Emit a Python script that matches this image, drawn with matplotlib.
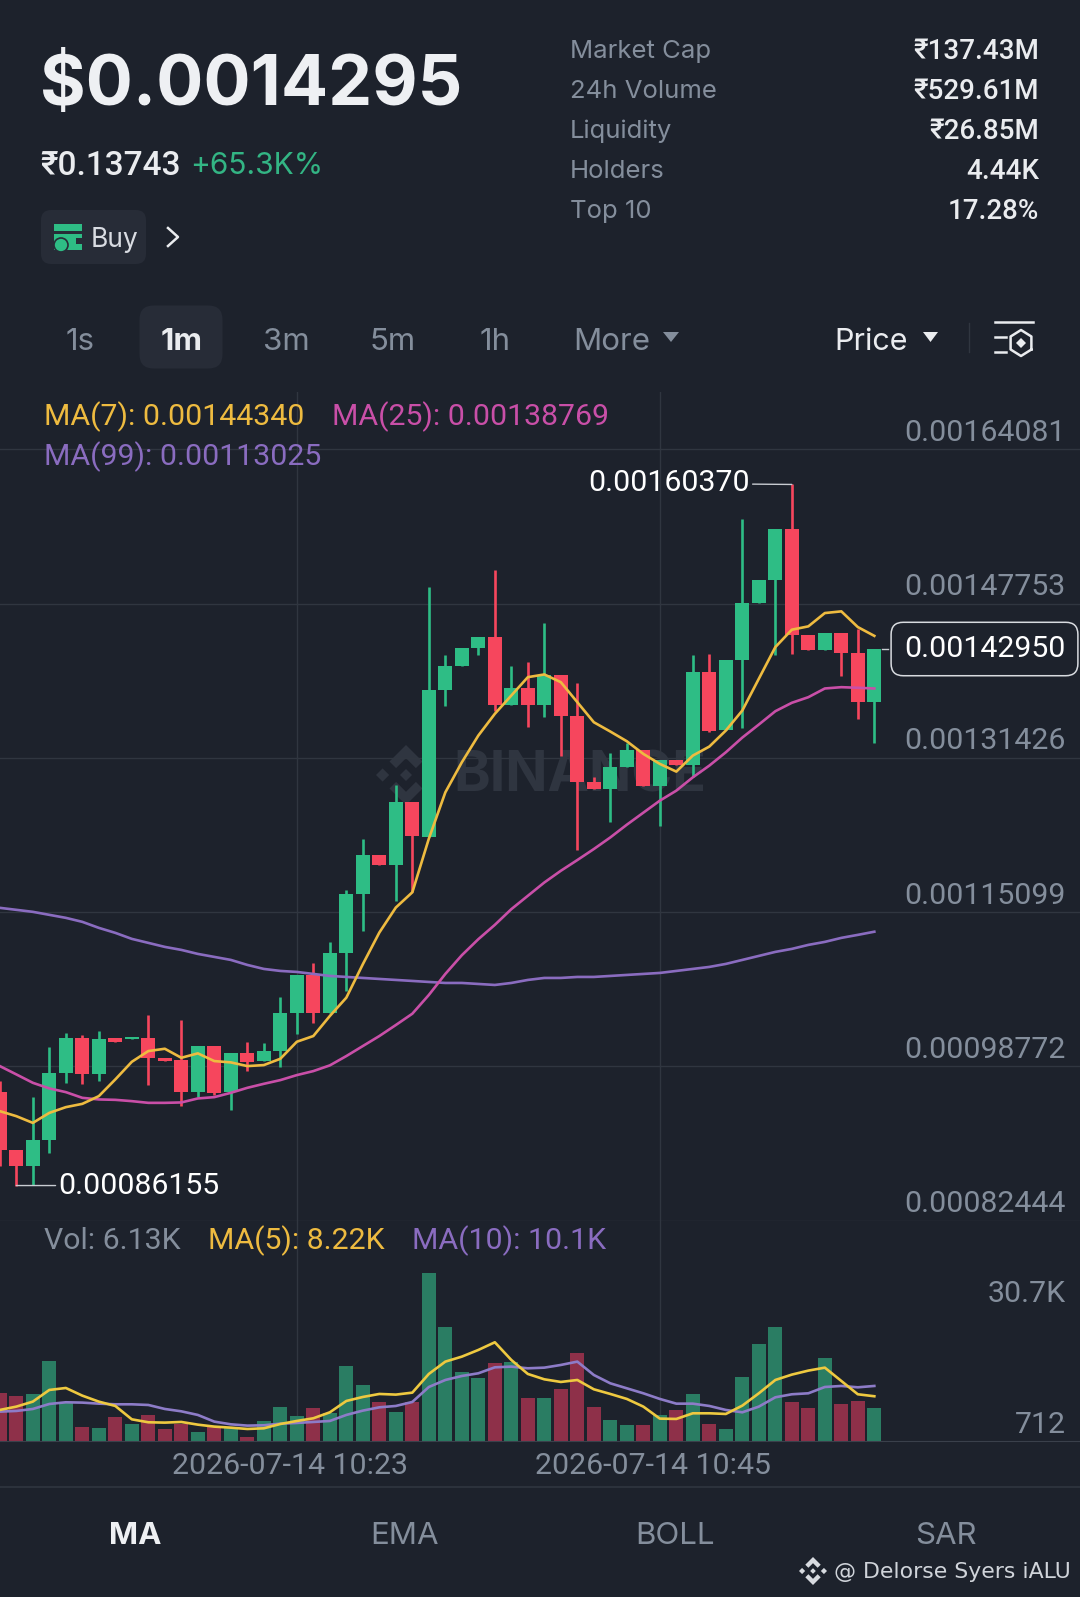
import matplotlib
matplotlib.use('Agg')
import matplotlib.pyplot as plt
import numpy as np
from matplotlib.patches import FancyBboxPatch, Polygon, Rectangle, Circle
from matplotlib.transforms import ScaledTranslation

# prices below are stored in units of 1e-8
CANDLE_OPEN = [96044, 89894, 88272, 90954, 98090, 101769, 97984, 101769, 101631, 101769, 99617, 99436, 96076, 100953, 96076, 100179, 99298, 100359, 104420, 108481, 104420, 110781, 116973, 121172, 120112, 126791, 123080, 138560, 141105, 143045, 144254, 137076, 138804, 137076, 140224, 135877, 128838, 128138, 130502, 132273, 128488, 131212, 130714, 140543, 134393, 141741, 147816, 150223, 155630, 144466, 142801, 144636, 142515, 137288]
CANDLE_CLOSE = [89894, 88272, 90954, 98090, 101769, 97984, 101695, 101377, 101907, 99680, 99330, 96076, 100953, 95970, 100179, 99224, 100359, 104420, 108481, 104420, 110781, 116973, 121172, 120112, 126791, 123122, 138560, 141105, 143045, 144254, 137076, 138804, 137076, 140224, 135877, 128838, 128138, 130502, 132273, 128488, 131212, 130714, 140543, 134319, 141741, 147816, 150223, 155630, 144466, 142801, 144636, 142515, 137288, 142950]
CANDLE_HIGH = [97210, 89894, 95514, 100847, 102299, 102055, 102511, 101769, 101907, 104176, 99617, 103646, 100953, 100953, 100179, 101313, 101271, 106116, 108481, 109721, 111916, 117408, 122804, 121172, 128594, 126791, 149513, 142271, 143045, 144254, 151357, 141137, 141561, 145738, 140224, 139376, 129368, 131954, 132973, 132273, 131212, 131212, 142271, 142451, 141741, 156690, 150223, 155630, 160370, 144466, 144636, 144636, 145102, 142950]
CANDLE_LOW = [88198, 86155, 86170, 89608, 97030, 96860, 97210, 101377, 101631, 96786, 99330, 94527, 95514, 95726, 94135, 98270, 99298, 98662, 102161, 103359, 104420, 106752, 113114, 120112, 116295, 117249, 123080, 136970, 141105, 142271, 136440, 137076, 134669, 135729, 131668, 121702, 128138, 124597, 130502, 128488, 124173, 130714, 129368, 134139, 134393, 134562, 147816, 142271, 142377, 142801, 142801, 140044, 135559, 132973]
MA7 = [94029, 93499, 92788, 93848, 94453, 94803, 95620, 97391, 99256, 100391, 100635, 99680, 100147, 99330, 99192, 98800, 98906, 99574, 101377, 101981, 104102, 106042, 109583, 112934, 115584, 117196, 122868, 127777, 130958, 133789, 136089, 138030, 139970, 140256, 139440, 137320, 135199, 134213, 133185, 131847, 130787, 129972, 131668, 132623, 134319, 136440, 139801, 143151, 144996, 145346, 146756, 146936, 145271, 144340]
MA25 = [98800, 97920, 97030, 96436, 96044, 95439, 95269, 95227, 95089, 94909, 94909, 94951, 95375, 95514, 95970, 96500, 96924, 97316, 97846, 98270, 98874, 99861, 100921, 101981, 103147, 104345, 106328, 108555, 110537, 112232, 113750, 115413, 116825, 118235, 119475, 120610, 121776, 123006, 124353, 125625, 126897, 127957, 129368, 130608, 132018, 133577, 134955, 136365, 137256, 137850, 138772, 138910, 138846, 138769]
MA99 = [115552, 115340, 115128, 114810, 114492, 114068, 113432, 112902, 112266, 111842, 111417, 111099, 110675, 110357, 110039, 109509, 109085, 108873, 108767, 108555, 108343, 108237, 108131, 108025, 107919, 107813, 107706, 107600, 107600, 107494, 107388, 107600, 107919, 108131, 108131, 108237, 108237, 108343, 108449, 108555, 108661, 108873, 109085, 109297, 109615, 110039, 110463, 110887, 111205, 111629, 111947, 112372, 112690, 113025]

# volume in thousands
VOLUME = [8.88, 8.27, 8.70, 14.66, 7.06, 2.68, 2.49, 4.50, 3.16, 4.81, 2.19, 3.16, 1.76, 2.68, 2.60, 0.712, 3.65, 6.33, 4.68, 6.08, 5.11, 13.75, 10.28, 7.18, 5.41, 7.24, 30.7, 20.92, 12.59, 11.56, 14.23, 14.54, 7.97, 7.97, 9.55, 16.06, 6.33, 3.89, 2.98, 2.92, 4.81, 5.72, 8.70, 3.22, 2.25, 11.68, 17.76, 20.80, 7.18, 6.08, 15.21, 6.75, 7.30, 6.13]
VOL_MA5 = [5.72, 6.33, 7.24, 9.37, 9.73, 8.33, 7.24, 6.45, 4.01, 3.47, 3.41, 3.53, 3.04, 2.68, 2.49, 2.25, 2.37, 3.16, 3.71, 4.20, 5.29, 7.36, 8.09, 8.64, 8.52, 8.88, 12.29, 14.54, 15.45, 16.67, 18.07, 14.84, 12.29, 11.31, 10.83, 11.19, 9.49, 8.64, 7.73, 6.33, 4.14, 4.08, 5.11, 5.11, 4.99, 6.51, 8.76, 11.19, 12.17, 12.90, 13.44, 11.01, 8.58, 8.22]
VOL_MA10 = [5.41, 5.54, 5.90, 6.81, 7.12, 7.06, 6.87, 6.75, 6.75, 6.63, 5.90, 5.47, 4.81, 3.59, 3.10, 2.86, 2.92, 3.22, 3.35, 3.53, 3.71, 4.81, 5.60, 6.20, 6.45, 7.18, 9.91, 11.19, 11.92, 12.41, 13.50, 13.63, 13.32, 13.44, 13.93, 14.54, 12.10, 10.58, 9.67, 8.76, 7.73, 6.87, 6.87, 6.45, 5.72, 5.29, 6.33, 8.03, 8.58, 8.76, 9.91, 10.10, 9.85, 10.10]

PRICE_TICKS = [164081, 147753, 131426, 115099, 98772, 82444]
PRICE_LABELS = ['0.00164081', '0.00147753', '0.00131426', '0.00115099', '0.00098772', '0.00082444']
TIME_TICKS = [17, 39]
TIME_LABELS = ['2026-07-14 10:23', '2026-07-14 10:45']
STAT_NAMES = ['Market Cap', '24h Volume', 'Liquidity', 'Holders', 'Top 10']
STAT_VALUES = ['₹137.43M', '₹529.61M', '₹26.85M', '4.44K', '17.28%']
INTERVALS = ['1s', '1m', '3m', '5m', '1h']
INDICATORS = ['MA', 'EMA', 'BOLL', 'SAR']

W, H = 1080, 1597
BG = '#1d222c'
GRID = '#303640'
GREY = '#848e9c'
LIGHT = '#eaecef'
UP = '#2ebd85'
DOWN = '#f6465d'
UP_VOL = '#2a7d63'
DOWN_VOL = '#8e3049'
YELLOW = '#eebb40'
PINK = '#c94fa8'
PURPLE = '#8a6cc0'
INTER = ['Inter', 'DejaVu Sans']
ROBOTO = ['Roboto', 'DejaVu Sans']
CHART_FONT = 21.8

plt.rcParams['font.family'] = ROBOTO


def axes_px(fig, top, bottom):
	return fig.add_axes([0, 1 - bottom / H, 1, (bottom - top) / H])


def binance_logo(ax, cx, cy, s, color, zorder=1):
	# centre diamond and four chevrons
	ax.add_patch(Polygon([(cx, cy - .2 * s), (cx + .2 * s, cy), (cx, cy + .2 * s), (cx - .2 * s, cy)], color=color, lw=0, zorder=zorder))
	ax.add_patch(Polygon([(cx, cy - s), (cx + .55 * s, cy - .45 * s), (cx + .33 * s, cy - .23 * s), (cx, cy - .56 * s), (cx - .33 * s, cy - .23 * s), (cx - .55 * s, cy - .45 * s)], color=color, lw=0, zorder=zorder))
	ax.add_patch(Polygon([(cx, cy + s), (cx + .55 * s, cy + .45 * s), (cx + .33 * s, cy + .23 * s), (cx, cy + .56 * s), (cx - .33 * s, cy + .23 * s), (cx - .55 * s, cy + .45 * s)], color=color, lw=0, zorder=zorder))
	for sign in (-1, 1):
		ax.add_patch(Polygon([(cx + sign * s, cy), (cx + sign * .78 * s, cy - .22 * s), (cx + sign * .56 * s, cy), (cx + sign * .78 * s, cy + .22 * s)], color=color, lw=0, zorder=zorder))


fig = plt.figure(figsize=(W / 100, H / 100), dpi=100, facecolor=BG)

# page furniture lives on a full size axes in pixel coordinates
ui = fig.add_axes([0, 0, 1, 1], zorder=0)
ui.set_xlim(0, W)
ui.set_ylim(H, 0)
ui.axis('off')


def label(x, y, s, size, color=LIGHT, ha='left', weight='normal', family=ROBOTO):
	# figure text so it stays on top of the grid
	return fig.text(x / W, 1 - (y + 3) / H, s, fontsize=size, color=color, ha=ha, va='center', fontweight=weight, family=family)


label(40, 83, '$0.0014295', 50.3, color='#eef0f3', weight='bold', family=INTER)
label(40, 163, '₹0.13743', 24, weight='medium')
label(190, 163, '+65.3K%', 21.5, color='#33b584', family=INTER)

ui.add_patch(FancyBboxPatch((47, 216), 93, 42, boxstyle='round,pad=6,rounding_size=10', fc='#272c37', ec='none'))
ui.add_patch(Rectangle((54, 224), 28, 7, color=UP, lw=0))
ui.add_patch(Rectangle((54, 234), 28, 16, color=UP, lw=0))
ui.add_patch(Rectangle((76, 238), 6, 6, color='#272c37', lw=0))
ui.add_patch(Circle((61, 245), 7, fc=UP, ec='#272c37', lw=1.2))
label(91, 237, 'Buy', 19, color='#d9dce2', family=INTER)
ui.plot([168, 178, 168], [228, 237, 246], color=LIGHT, lw=1.8)

for i, (name, value) in enumerate(zip(STAT_NAMES, STAT_VALUES)):
	y = 48.5 + i * 40
	label(570, y, name, 18.5, color=GREY, family=INTER)
	label(1039, y, value, 20, color=LIGHT, ha='right', weight='medium')

ui.add_patch(FancyBboxPatch((152, 318), 58, 38, boxstyle='round,pad=12.5,rounding_size=14', fc='#272c37', ec='none'))
for name, x_tab in zip(INTERVALS, [80.5, 181.4, 286.3, 392.3, 495.2]):
	label(x_tab, 339, name, 22.5, color=LIGHT if name == '1m' else GREY, ha='center', weight='bold' if name == '1m' else 'normal', family=INTER)
label(612, 339, 'More', 22.5, color=GREY, ha='center', family=INTER)
ui.add_patch(Polygon([(663, 332), (679, 332), (671, 342)], color=GREY, lw=0))
label(871, 339, 'Price', 22, color=LIGHT, ha='center', family=INTER)
ui.add_patch(Polygon([(923, 332), (938, 332), (930.5, 342)], color=LIGHT, lw=0))
ui.plot([969, 969], [323, 352], color=GRID, lw=1)
# settings icon
ui.plot([995, 1033], [322, 322], color=LIGHT, lw=1.8)
ui.plot([995, 1006], [337, 337], color=LIGHT, lw=1.8)
ui.plot([995, 1006], [352, 352], color=LIGHT, lw=1.8)
hex_t = np.linspace(0, 2 * np.pi, 7) + np.pi / 6
ui.plot(1021 + 12 * np.cos(hex_t), 343 + 13 * np.sin(hex_t), color=LIGHT, lw=1.8)
ui.add_patch(Polygon([(1021, 338), (1026, 343), (1021, 348), (1016, 343)], color=LIGHT, lw=0))

# moving average legends
label(44, 413.5, 'MA(7): 0.00144340', CHART_FONT, color=YELLOW)
label(332, 413.5, 'MA(25): 0.00138769', CHART_FONT, color=PINK)
label(44, 454, 'MA(99): 0.00113025', CHART_FONT, color=PURPLE)
label(44, 1238, 'Vol: 6.13K', CHART_FONT, color=GREY)
label(208, 1238, 'MA(5): 8.22K', CHART_FONT, color=YELLOW)
label(412, 1238, 'MA(10): 10.1K', CHART_FONT, color=PURPLE)

# watermark sits under the candles
binance_logo(ui, 406, 775, 30, '#2f3540')
ui.text(453, 776, 'BINANCE', fontsize=40, color='#2f3540', fontweight='bold', va='center', family=INTER)

# bottom bar
ui.plot([0, W], [1486.5, 1486.5], color=GRID, lw=1.2)
for name, x_tab in zip(INDICATORS, [135.5, 404.5, 674.5, 945.5]):
	label(x_tab, 1533, name, 22.5, color='#eef0f3' if name == 'MA' else GREY, ha='center', weight='bold' if name == 'MA' else 'normal', family=INTER)
binance_logo(ui, 813, 1571, 14, '#d8dbe0')
label(833.5, 1569, '@ Delorse Syers iALU', 15.8, color='#d0d4da', family=['DejaVu Sans'])

# price pane
x = np.arange(-1, len(CANDLE_OPEN) - 1)
to_price = 1e-8
opens = np.array(CANDLE_OPEN) * to_price
closes = np.array(CANDLE_CLOSE) * to_price
highs = np.array(CANDLE_HIGH) * to_price
lows = np.array(CANDLE_LOW) * to_price
rising = closes >= opens

ax = axes_px(fig, 392, 1220.6)
ax.set_zorder(2)
ax.patch.set_visible(False)
x_left = -16.33 / 16.5
x_right = (W - 16.33) / 16.5
ax.set_xlim(x_left, x_right)
ax.set_ylim(82444e-8, 170156e-8)

colors = np.where(rising, UP, DOWN)
ax.vlines(x, lows, highs, colors=colors, lw=1.9, zorder=2)
ax.bar(x, np.abs(closes - opens), bottom=np.minimum(opens, closes), width=0.85, color=colors, zorder=3)
ax.plot(x, np.array(MA99) * to_price, color=PURPLE, lw=1.9, zorder=4)
ax.plot(x, np.array(MA25) * to_price, color=PINK, lw=1.9, zorder=4)
ax.plot(x, np.array(MA7) * to_price, color=YELLOW, lw=1.9, zorder=5)

ax.set_yticks(np.array(PRICE_TICKS) * to_price, labels=PRICE_LABELS)
ax.yaxis.tick_right()
ax.tick_params(axis='y', length=0, pad=-10.5, labelsize=CHART_FONT, labelcolor=GREY)
for tick in ax.get_yticklabels():
	tick.set_ha('right')
	tick.set_va('bottom')
	tick.set_transform(tick.get_transform() + ScaledTranslation(0, 2.5 / 100, fig.dpi_scale_trans))
ax.set_xticks(TIME_TICKS)
ax.tick_params(axis='x', length=0, labelbottom=False)
ax.grid(color=GRID, lw=1)
ax.set_axisbelow(True)
for spine in ax.spines.values():
	spine.set_visible(False)

# high, low and last price markers
hi = int(np.argmax(highs))
lo = int(np.argmin(lows))
ax.annotate(f'{highs[hi]:.8f}', xy=(x[hi], highs[hi]), xytext=(-42, 1), textcoords='offset pixels', color='white', fontsize=CHART_FONT, ha='right', va='center', arrowprops=dict(arrowstyle='-', color='#c8ccd2', lw=1, shrinkA=0, shrinkB=0))
ax.annotate(f'{lows[lo]:.8f}', xy=(x[lo], lows[lo]), xytext=(42, 0), textcoords='offset pixels', color='white', fontsize=CHART_FONT, ha='left', va='center', arrowprops=dict(arrowstyle='-', color='#c8ccd2', lw=1, shrinkA=0, shrinkB=0))
last_y = closes[-1]
ax.annotate(f'{last_y:.8f}', xy=(984.5 / W, last_y), xycoords=('axes fraction', 'data'), color='white', fontsize=CHART_FONT, ha='center', va='center',
	bbox=dict(boxstyle='round,pad=0.42,rounding_size=0.4', fc=BG, ec='#d8dbe0', lw=1.1))
ax.plot([x[-1] + 0.45, x[-1] + 0.85], [last_y, last_y], color='#c8ccd2', lw=1, zorder=3)

# volume pane
vol = axes_px(fig, 1220.6, 1441.3)
vol.set_zorder(1)
vol.patch.set_visible(False)
vol.set_xlim(x_left, x_right)
vol.set_ylim(0, (1441.3 - 1220.6) / 5.48)
vol.bar(x, VOLUME, width=0.85, color=np.where(rising, UP_VOL, DOWN_VOL), zorder=2)
vol.plot(x, VOL_MA10, color='#8d7cc8', lw=1.9, zorder=3)
vol.plot(x, VOL_MA5, color='#eec940', lw=1.9, zorder=4)
vol.set_yticks([])
vol.set_xticks(TIME_TICKS, labels=TIME_LABELS)
vol.tick_params(axis='x', length=0, pad=8, labelsize=CHART_FONT, labelcolor=GREY)
for tick in vol.get_xticklabels():
	tick.set_transform(tick.get_transform() + ScaledTranslation(-7 / 100, 0, fig.dpi_scale_trans))
vol.grid(axis='x', color=GRID, lw=1)
vol.set_axisbelow(True)
for name, spine in vol.spines.items():
	spine.set_visible(name == 'bottom')
vol.spines['bottom'].set_color('#3a404b')
vol.annotate('30.7K', xy=(1066 / W, max(VOLUME)), xycoords=('axes fraction', 'data'), xytext=(0, -21), textcoords='offset pixels', color=GREY, fontsize=CHART_FONT, ha='right', va='center')
vol.annotate('712', xy=(1066 / W, min(VOLUME)), xycoords=('axes fraction', 'data'), xytext=(0, 12), textcoords='offset pixels', color=GREY, fontsize=CHART_FONT, ha='right', va='center')

fig.savefig('out.png', dpi=100, facecolor=BG)
